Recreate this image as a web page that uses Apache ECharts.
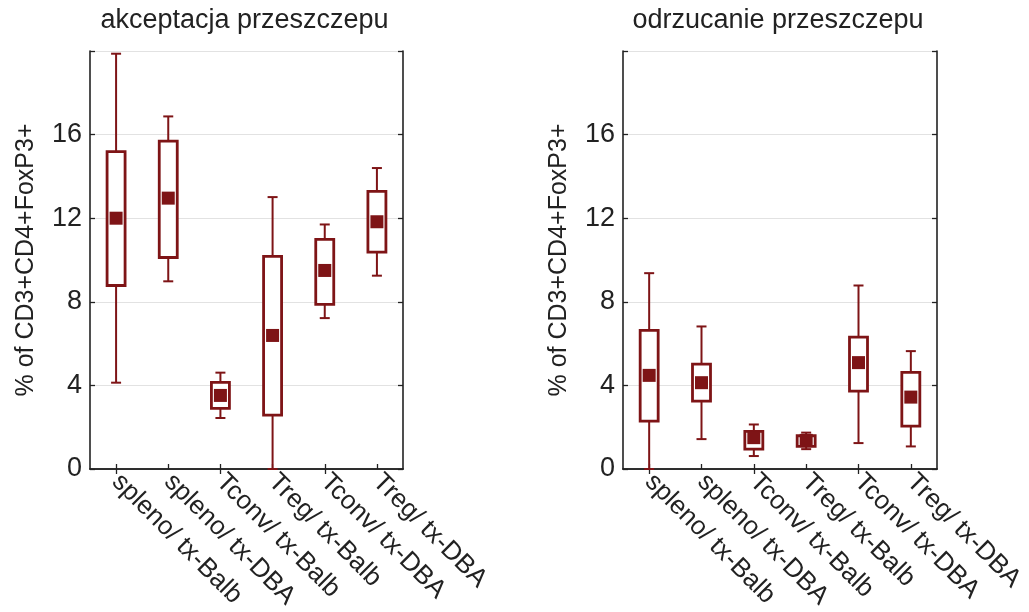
<!DOCTYPE html>
<html>
<head>
<meta charset="utf-8">
<script src="https://cdn.jsdelivr.net/npm/echarts@6/dist/echarts.min.js"></script>
<style>
html,body{margin:0;padding:0;background:#fff;}
#chart{width:1029px;height:612px;}
</style>
</head>
<body>
<div id="chart"></div>
<script>
// ---- data ----
const categories = ['spleno/ tx-Balb', 'spleno/ tx-DBA', 'Tconv/ tx-Balb', 'Treg/ tx-Balb', 'Tconv/ tx-DBA', 'Treg/ tx-DBA'];
const panelTitles = ['akceptacja przeszczepu', 'odrzucanie przeszczepu'];
const yTicks = [0, 4, 8, 12, 16];
const yAxisName = '% of CD3+CD4+FoxP3+';

// akceptacja przeszczepu
const accLow  = [4.13, 8.98, 2.44, 0.00, 7.22, 9.25];
const accQ1   = [8.78, 10.12, 2.90, 2.58, 7.88, 10.38];
const accMean = [12.00, 12.96, 3.52, 6.39, 9.50, 11.83];
const accQ3   = [15.19, 15.69, 4.14, 10.17, 10.99, 13.28];
const accHigh = [19.87, 16.87, 4.61, 13.01, 11.70, 14.40];

// odrzucanie przeszczepu
const rejLow  = [0.00, 1.43, 0.62, 0.95, 1.24, 1.08];
const rejQ1   = [2.29, 3.25, 0.95, 1.08, 3.73, 2.05];
const rejMean = [4.48, 4.13, 1.50, 1.37, 5.09, 3.44];
const rejQ3   = [6.63, 5.02, 1.80, 1.59, 6.31, 4.62];
const rejHigh = [9.37, 6.82, 2.13, 1.74, 8.78, 5.64];

// ---- styles ----
const RED = '#7e1416';
const AX = '#222222';
const FONT = 'Liberation Sans, Arial, sans-serif';

const grids = [
  { left: 90, top: 51, width: 313, height: 418 },
  { left: 623, top: 51, width: 314, height: 418 }
];

function boxData(low, q1, q3, high) {
  return categories.map((c, i) => [i, low[i], q1[i], q3[i], high[i]]);
}
function meanData(mean) {
  return categories.map((c, i) => [i, mean[i]]);
}

function renderBox(params, api) {
  const x = api.value(0);
  const pLow = api.coord([x, api.value(1)]);
  const pQ1 = api.coord([x, api.value(2)]);
  const pQ3 = api.coord([x, api.value(3)]);
  const pHigh = api.coord([x, api.value(4)]);
  const cx = pLow[0];
  const boxW = 18, capW = 10;
  const wStyle = { stroke: RED, lineWidth: 2, fill: null };
  return {
    type: 'group',
    children: [
      { type: 'line', shape: { x1: cx, y1: pLow[1], x2: cx, y2: pQ1[1] }, style: wStyle },
      { type: 'line', shape: { x1: cx, y1: pQ3[1], x2: cx, y2: pHigh[1] }, style: wStyle },
      { type: 'line', shape: { x1: cx - capW / 2, y1: pLow[1], x2: cx + capW / 2, y2: pLow[1] }, style: wStyle },
      { type: 'line', shape: { x1: cx - capW / 2, y1: pHigh[1], x2: cx + capW / 2, y2: pHigh[1] }, style: wStyle },
      { type: 'rect', shape: { x: cx - boxW / 2, y: pQ3[1], width: boxW, height: pQ1[1] - pQ3[1] },
        style: { stroke: RED, lineWidth: 2.8, fill: '#ffffff' } }
    ]
  };
}

const xAxes = [], yAxes = [], series = [], titles = [];
const sets = [
  [accLow, accQ1, accMean, accQ3, accHigh],
  [rejLow, rejQ1, rejMean, rejQ3, rejHigh]
];

grids.forEach((g, gi) => {
  titles.push({
    text: panelTitles[gi],
    left: g.left + g.width / 2 - 2,
    top: 7,
    padding: 0,
    textAlign: 'center',
    textStyle: { fontFamily: FONT, fontSize: 27, fontWeight: 'normal', color: AX }
  });
  // bottom category axis
  xAxes.push({
    type: 'category', data: categories, gridIndex: gi, position: 'bottom',
    boundaryGap: true,
    axisLine: { show: true, lineStyle: { color: AX, width: 1.6 } },
    axisTick: { show: true, inside: true, alignWithLabel: true, length: 5, lineStyle: { color: AX, width: 1.3 } },
    axisLabel: { show: true, rotate: -45, interval: 0, margin: 9, fontFamily: FONT, fontSize: 26, color: AX },
    splitLine: { show: false }
  });
  // top frame axis
  xAxes.push({
    type: 'category', data: categories, gridIndex: gi, position: 'top',
    boundaryGap: true,
    axisLine: { show: true, lineStyle: { color: AX, width: 1.6 } },
    axisTick: { show: true, inside: true, alignWithLabel: true, length: 5, lineStyle: { color: AX, width: 1.3 } },
    axisLabel: { show: false },
    splitLine: { show: false }
  });
  // left value axis
  yAxes.push({
    type: 'value', gridIndex: gi, position: 'left', min: 0, max: 20, interval: 4,
    name: yAxisName, nameLocation: 'middle', nameGap: 51,
    nameTextStyle: { fontFamily: FONT, fontSize: 25, color: AX },
    axisLine: { show: true, lineStyle: { color: AX, width: 1.6 } },
    axisTick: { show: true, inside: true, length: 5, lineStyle: { color: AX, width: 1.3 } },
    axisLabel: { show: true, margin: 8, fontFamily: FONT, fontSize: 27, color: AX,
      formatter: v => (yTicks.indexOf(v) >= 0 ? String(v) : '') },
    splitLine: { show: true, lineStyle: { color: '#e2e2e2', width: 1 } }
  });
  // right frame axis
  yAxes.push({
    type: 'value', gridIndex: gi, position: 'right', min: 0, max: 20, interval: 4,
    axisLine: { show: true, lineStyle: { color: AX, width: 1.6 } },
    axisTick: { show: true, inside: true, length: 5, lineStyle: { color: AX, width: 1.3 } },
    axisLabel: { show: false },
    splitLine: { show: false }
  });
  const [lo, q1, mean, q3, hi] = sets[gi];
  series.push({
    type: 'custom', xAxisIndex: gi * 2, yAxisIndex: gi * 2,
    renderItem: renderBox, clip: false,
    encode: { x: 0, y: [1, 2, 3, 4] },
    data: boxData(lo, q1, q3, hi), z: 3
  });
  series.push({
    type: 'scatter', xAxisIndex: gi * 2, yAxisIndex: gi * 2,
    symbol: 'rect', symbolSize: 13,
    itemStyle: { color: RED, opacity: 1 },
    data: meanData(mean), z: 4
  });
});

const chart = echarts.init(document.getElementById('chart'), null, { renderer: 'canvas' });
chart.setOption({
  animation: false,
  backgroundColor: '#ffffff',
  title: titles,
  grid: grids,
  xAxis: xAxes,
  yAxis: yAxes,
  series: series
});
</script>
</body>
</html>
